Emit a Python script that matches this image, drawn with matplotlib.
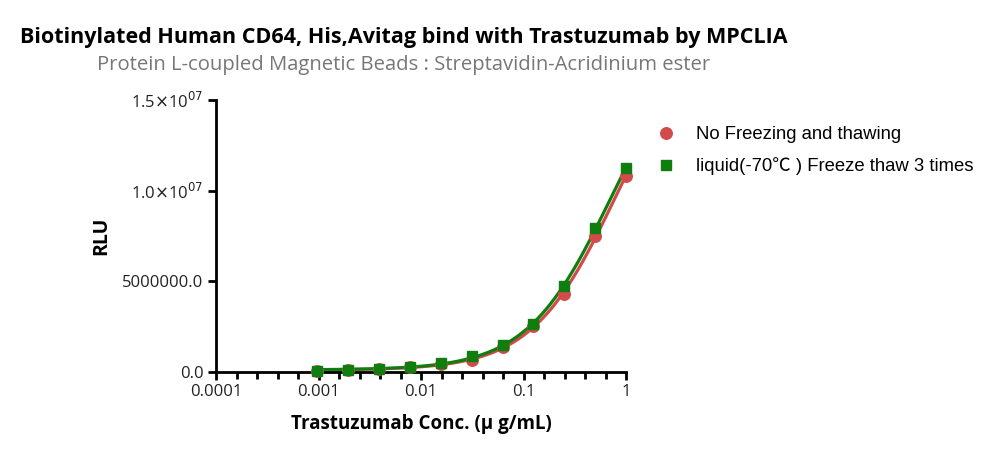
import numpy as np
import matplotlib
matplotlib.use("Agg")
import matplotlib.pyplot as plt
from matplotlib.ticker import FixedLocator, NullFormatter

# Concentraciones (ug/mL) y señales
conc = [1, 0.5, 0.25, 0.125, 0.0625, 0.03125, 0.015625, 0.0078125, 0.00390625, 0.001953125, 0.0009765625]
rlu_fresh = [10.8e6, 7.5e6, 4.3e6, 2.55e6, 1.38e6, 0.68e6, 0.42e6, 0.28e6, 0.17e6, 0.10e6, 0.06e6]
rlu_frozen = [11.25e6, 7.95e6, 4.75e6, 2.65e6, 1.48e6, 0.87e6, 0.48e6, 0.30e6, 0.18e6, 0.11e6, 0.06e6]

series_names = ["No Freezing and thawing", "liquid(-70\u2103 ) Freeze thaw 3 times"]
y_ticks = [0, 5e6, 1e7, 1.5e7]
y_tick_labels = ["0.0", "5000000.0", r"1.0$\times$10$^{07}$", r"1.5$\times$10$^{07}$"]
x_ticks = [0.0001, 0.001, 0.01, 0.1, 1]
x_tick_labels = ["0.0001", "0.001", "0.01", "0.1", "1"]

red = "#D24A4A"
green = "#0E7F0E"


def fit_4pl(x, y):
    # ajuste 4PL simple: rejilla sobre c y b, a y d por mínimos cuadrados
    best = None
    for lc in np.linspace(-2, 2, 161):
        for b in np.linspace(0.3, 2.5, 111):
            f = 1.0 / (1.0 + (x / 10 ** lc) ** b)
            A = np.column_stack([f, 1 - f])
            coef, *_ = np.linalg.lstsq(A, y, rcond=None)
            err = np.sum((A @ coef - y) ** 2)
            if best is None or err < best[0]:
                best = (err, lc, b, coef)
    _, lc, b, coef = best
    return lambda t: coef[0] / (1 + (t / 10 ** lc) ** b) + coef[1] * (1 - 1 / (1 + (t / 10 ** lc) ** b))


fig = plt.figure(figsize=(10, 4.57), dpi=100)
ax = fig.add_axes([0.216, 0.186, 0.41, 0.595])

x = np.array(conc)
xx = np.logspace(np.log10(x.min()), 0, 300)
for vals, col, mk, name in [(rlu_fresh, red, "o", series_names[0]),
                            (rlu_frozen, green, "s", series_names[1])]:
    y = np.array(vals)
    f = fit_4pl(x, y)
    ax.plot(xx, f(xx), color=col, lw=2.3, zorder=2)
    ax.plot(x, y, ls="none", marker=mk, ms=7.8 if mk == "s" else 8.3, color=col,
            label=name, zorder=3, clip_on=False)

ax.set_xscale("log")
ax.set_xlim(0.0001, 1)
ax.set_ylim(0, 1.5e7)

ax.xaxis.set_major_locator(FixedLocator(x_ticks))
ax.set_xticklabels(x_tick_labels)
minor = [10 ** (k + j / 5) for k in range(-4, 0) for j in range(1, 5)]
ax.xaxis.set_minor_locator(FixedLocator(minor))
ax.xaxis.set_minor_formatter(NullFormatter())
ax.set_yticks(y_ticks)
ax.set_yticklabels(y_tick_labels)

for s in ["top", "right"]:
    ax.spines[s].set_visible(False)
for s in ["left", "bottom"]:
    ax.spines[s].set_linewidth(2)
ax.tick_params(which="major", length=6, width=2, labelsize=12, pad=3)
ax.tick_params(which="minor", length=5, width=2)
for lab in ax.get_xticklabels() + ax.get_yticklabels():
    lab.set_fontfamily("Open Sans")
    lab.set_color("#222222")

ax.set_xlabel("Trastuzumab Conc. (\u03bc g/mL)", fontsize=13.5, fontweight="bold",
              fontfamily="Open Sans", labelpad=10)
ax.set_ylabel("RLU", fontsize=14, fontweight="bold", fontfamily="Open Sans", labelpad=8)

fig.text(0.02, 0.918, "Biotinylated Human CD64, His,Avitag bind with Trastuzumab by MPCLIA",
         fontsize=15.5, fontweight="bold", fontfamily="Open Sans", va="center")
fig.text(0.097, 0.857, "Protein L-coupled Magnetic Beads : Streptavidin-Acridinium ester",
         fontsize=14.6, color="#777777", fontfamily="Open Sans", va="center")

leg = ax.legend(loc="upper left", bbox_to_anchor=(1.03, 0.965), frameon=False,
                prop={"family": ["Liberation Sans", "Noto Sans CJK SC"], "size": 13.3},
                handletextpad=1.0, labelspacing=0.75, handlelength=1.2)

fig.savefig("out.png", dpi=100)
